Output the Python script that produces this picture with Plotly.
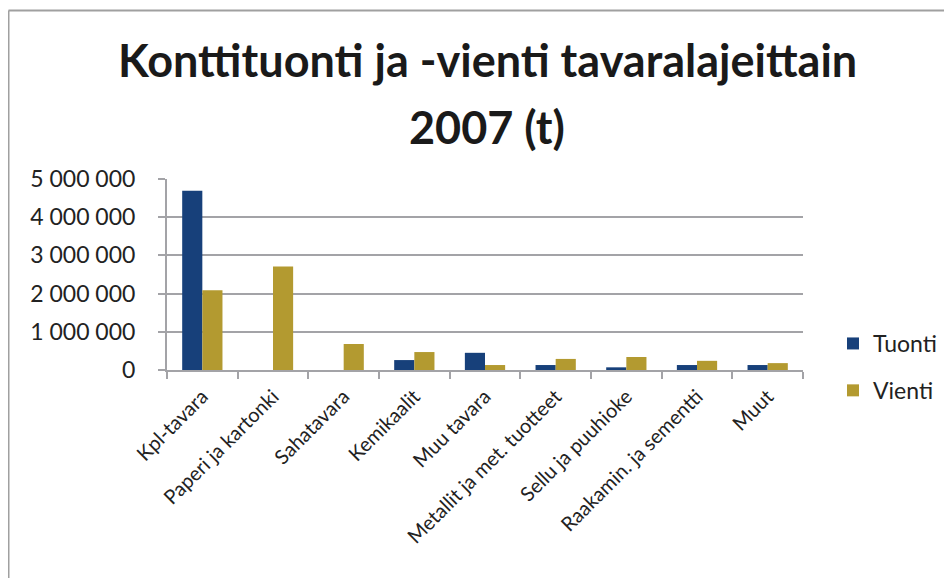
import plotly.graph_objects as go

categories = ["Kpl-tavara", "Paperi ja kartonki", "Sahatavara", "Kemikaalit", "Muu tavara",
              "Metallit ja met. tuotteet", "Sellu ja puuhioke", "Raakamin. ja sementti", "Muut"]
tuonti = [4690000, 0, 0, 260000, 450000, 130000, 70000, 130000, 130000]
vienti = [2090000, 2710000, 680000, 470000, 130000, 290000, 340000, 240000, 180000]
y_ticks = [0, 1000000, 2000000, 3000000, 4000000, 5000000]
title_lines = ["Konttituonti ja -vienti tavaralajeittain", "2007 (t)"]

# page body has an 8px margin; work in screen coords and subtract it
OFF = 8
W, H = 944, 570
L = 167 - OFF
T = 179 - OFF
PW, PH = 636, 191
R = W - L - PW
B = H - T - PH

fig = go.Figure()
fig.add_trace(go.Bar(name="Tuonti", x=categories, y=tuonti, marker_color="#17407A",
                     marker_line_width=0, legendgroup="a"))
fig.add_trace(go.Bar(name="Vienti", x=categories, y=vienti, marker_color="#B39A30",
                     marker_line_width=0, legendgroup="b"))

def px(x):
    return (x - OFF - L) / PW
def py(y):
    return (T + PH - (y - OFF)) / PH

grid = "#A3A3A7"
fig.update_layout(
    width=W, height=H,
    margin=dict(l=L, r=R, t=T, b=B, pad=0, autoexpand=False),
    paper_bgcolor="white", plot_bgcolor="white",
    font=dict(family="Lato", color="#222222"),
    separators=". ",
    barmode="group", bargap=0.43, bargroupgap=0,
    showlegend=True,
    legend=dict(x=px(833), xanchor="left", y=py(322), yanchor="top",
                font=dict(size=23, color="#222222"), traceorder="grouped",
                tracegroupgap=14, itemsizing="constant", bgcolor="rgba(0,0,0,0)"),
    xaxis=dict(type="category", showline=True, linecolor=grid, linewidth=2, automargin=False,
               ticks="outside", tickson="boundaries", ticklen=7, tickcolor=grid, tickwidth=2,
               ticklabelstandoff=5,
               tickangle=-45, tickfont=dict(size=20, color="#222222"), showgrid=False),
    yaxis=dict(range=[0, 5000000], tickvals=y_ticks, tickformat=",d", automargin=False,
               showline=True, linecolor=grid, linewidth=2,
               ticks="outside", ticklen=7, tickcolor=grid, tickwidth=2, ticklabelstandoff=18,
               showgrid=True, gridcolor=grid, gridwidth=2, zeroline=False,
               tickfont=dict(size=23, color="#222222")),
    shapes=[
        dict(type="line", xref="paper", yref="paper", x0=px(8.5), x1=px(970), y0=py(10.5), y1=py(10.5),
             line=dict(color="#A0A0A0", width=2)),
        dict(type="line", xref="paper", yref="paper", x0=px(8.5), x1=px(8.5), y0=py(10.5), y1=py(600),
             line=dict(color="#A0A0A0", width=2)),
    ],
    annotations=[
        dict(text=title_lines[0], xref="paper", yref="paper", x=px(487), y=py(60),
             xanchor="center", yanchor="middle", showarrow=False,
             font=dict(family="Lato", size=45, color="#1a1a1a", weight="bold")),
        dict(text=title_lines[1], xref="paper", yref="paper", x=px(487), y=py(127),
             xanchor="center", yanchor="middle", showarrow=False,
             font=dict(family="Lato", size=45, color="#1a1a1a", weight="bold")),
    ],
)
fig.write_html("out.html")
